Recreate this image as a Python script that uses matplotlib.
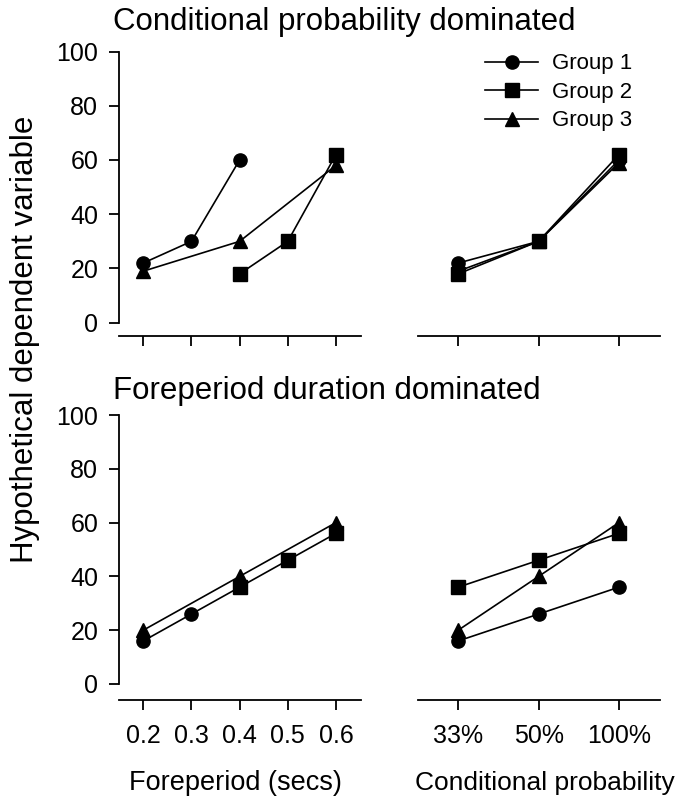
import matplotlib
matplotlib.use('Agg')
import matplotlib.pyplot as plt

plt.rcParams['font.family'] = ['Liberation Sans', 'DejaVu Sans']

# Données
foreperiods = [0.2, 0.3, 0.4, 0.5, 0.6]
prob_labels = ['33%', '50%', '100%']
groups = ['Group 1', 'Group 2', 'Group 3']
markers = ['o', 's', '^']

# Conditional probability dominated
cp_fp_x = [[0.2, 0.3, 0.4], [0.4, 0.5, 0.6], [0.2, 0.4, 0.6]]
cp_fp_y = [[22, 30, 60], [18, 30, 62], [19, 30, 58]]
cp_prob_y = [[22, 30, 60], [18, 30, 62], [19, 30, 59]]

# Foreperiod duration dominated
fd_fp_x = [[0.2, 0.3, 0.4], [0.4, 0.5, 0.6], [0.2, 0.4, 0.6]]
fd_fp_y = [[16, 26, 36], [36, 46, 56], [20, 40, 60]]
fd_prob_y = [[16, 26, 36], [36, 46, 56], [20, 40, 60]]

W, H = 675, 801
fig = plt.figure(figsize=(W / 100, H / 100), dpi=100)


def make_axes(x0, y_top, y_bot, ylo, left_axis):
    ax = fig.add_axes([x0 / W, 1 - y_bot / H, 242 / W, (y_bot - y_top) / H])
    ax.set_ylim(ylo, 100)
    for s in ['top', 'right']:
        ax.spines[s].set_visible(False)
    ax.spines['bottom'].set_linewidth(1.3)
    ax.tick_params(axis='x', direction='out', length=7, width=1.3, labelsize=18, pad=10)
    if left_axis:
        ax.spines['left'].set_bounds(0, 100)
        ax.spines['left'].set_linewidth(1.3)
        ax.set_yticks([0, 20, 40, 60, 80, 100])
        ax.tick_params(axis='y', direction='out', length=7, width=1.3, labelsize=18, pad=8)
    else:
        ax.spines['left'].set_visible(False)
        ax.set_yticks([])
    return ax


def draw(ax, xs, ys):
    for i in range(3):
        ax.plot(xs[i], ys[i], color='black', lw=1.2, marker=markers[i],
                markersize=9.5 if i != 2 else 10.5, label=groups[i], clip_on=False)


rows = [(51.5, 336, -4.9, cp_fp_x, cp_fp_y, cp_prob_y),
        (415, 700, -5.95, fd_fp_x, fd_fp_y, fd_prob_y)]

for r, (yt, yb, ylo, fx, fy, py) in enumerate(rows):
    axl = make_axes(119, yt, yb, ylo, True)
    draw(axl, fx, fy)
    axl.set_xlim(0.1496, 0.652)
    axl.set_xticks(foreperiods)
    axr = make_axes(418, yt, yb, ylo, False)
    draw(axr, [[0, 1, 2]] * 3, py)
    axr.set_xlim(-0.5, 2.51)
    axr.set_xticks([0, 1, 2])
    if r == 0:
        axl.tick_params(axis='x', labelbottom=False)
        axr.tick_params(axis='x', labelbottom=False)
        axr.legend(loc='upper right', bbox_to_anchor=(0.967, 1.064), frameon=False,
                   fontsize=16, handlelength=2.4, handletextpad=0.6, labelspacing=0.34)
    else:
        axr.set_xticklabels(prob_labels)

fig.text(113 / W, 1 - 22 / H, 'Conditional probability dominated', fontsize=22.5, va='center', ha='left')
fig.text(113 / W, 1 - 391 / H, 'Foreperiod duration dominated', fontsize=22.5, va='center', ha='left')
fig.text(25 / W, 1 - 339 / H, 'Hypothetical dependent variable', fontsize=22.5, rotation=90,
         va='center', ha='center')
fig.text(235 / W, 1 - 783 / H, 'Foreperiod (secs)', fontsize=19.5, va='center', ha='center')
fig.text(415 / W, 1 - 783 / H, 'Conditional probability', fontsize=19, va='center', ha='left')

fig.savefig('out.png', dpi=100)
